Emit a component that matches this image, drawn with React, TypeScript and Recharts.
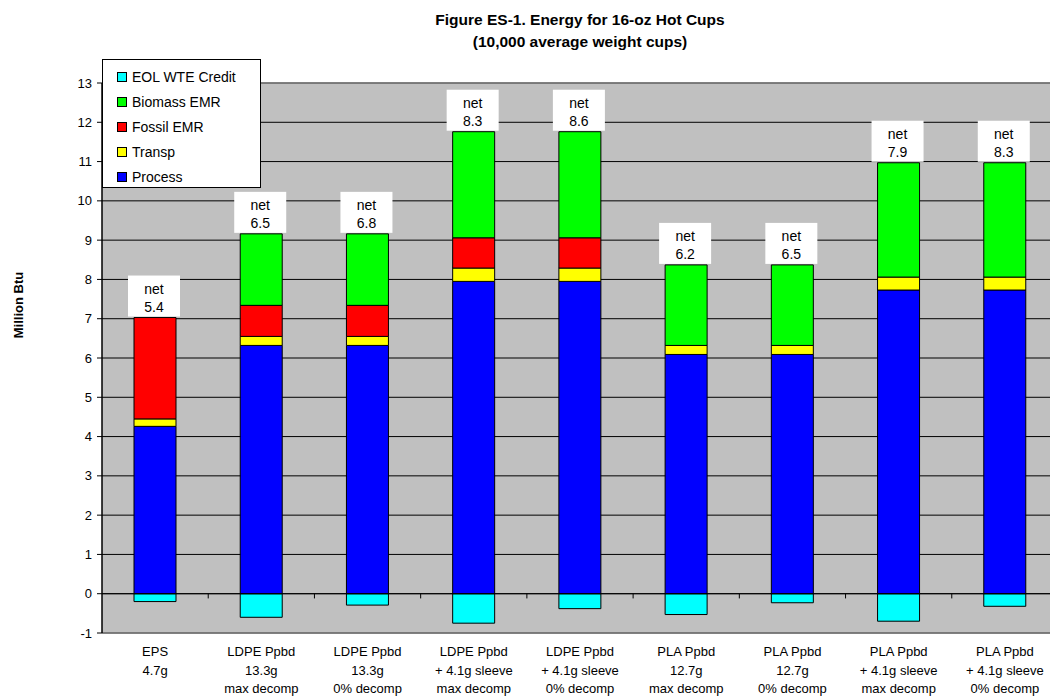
import React from "react";
import {
  BarChart,
  Bar,
  XAxis,
  YAxis,
  CartesianGrid,
  ReferenceLine,
  LabelList,
  Legend,
} from "recharts";

// Figure ES-1: energy for 16-oz hot cups, stacked by component (Million Btu)

const categories = [
  "EPS\n4.7g",
  "LDPE Ppbd\n13.3g\nmax decomp",
  "LDPE Ppbd\n13.3g\n0% decomp",
  "LDPE Ppbd\n+ 4.1g sleeve\nmax decomp",
  "LDPE Ppbd\n+ 4.1g sleeve\n0% decomp",
  "PLA Ppbd\n12.7g\nmax decomp",
  "PLA Ppbd\n12.7g\n0% decomp",
  "PLA Ppbd\n+ 4.1g sleeve\nmax decomp",
  "PLA Ppbd\n+ 4.1g sleeve\n0% decomp",
];

const processVals = [4.26, 6.32, 6.32, 7.95, 7.95, 6.09, 6.09, 7.73, 7.73];
const transpVals = [0.19, 0.23, 0.23, 0.34, 0.34, 0.23, 0.23, 0.33, 0.33];
const fossilVals = [2.58, 0.79, 0.79, 0.77, 0.77, 0, 0, 0, 0];
const biomassVals = [0, 1.82, 1.82, 2.7, 2.7, 2.05, 2.05, 2.91, 2.91];
const eolVals = [-0.2, -0.6, -0.29, -0.75, -0.38, -0.53, -0.23, -0.7, -0.32];
const netLabels = ["5.4", "6.5", "6.8", "8.3", "8.6", "6.2", "6.5", "7.9", "8.3"];

const yTicks = [-1, 0, 1, 2, 3, 4, 5, 6, 7, 8, 9, 10, 11, 12, 13];

const data = categories.map((name, i) => ({
  name,
  process: processVals[i],
  transp: transpVals[i],
  fossil: fossilVals[i],
  biomass: biomassVals[i],
  eol: eolVals[i],
  net: netLabels[i],
}));

// legend order, top to bottom
const LEGEND_ITEMS = [
  { label: "EOL WTE Credit", color: "#00FFFF" },
  { label: "Biomass EMR", color: "#00FF00" },
  { label: "Fossil EMR", color: "#FF0000" },
  { label: "Transp", color: "#FFFF00" },
  { label: "Process", color: "#0000FF" },
];

const FONT = "'Liberation Sans', Arial, sans-serif";

function CategoryTick(props: any) {
  const { x, y, payload } = props;
  const lines = String(payload.value).split("\n");
  return (
    <g transform={`translate(${x},${y})`}>
      {lines.map((ln, i) => (
        <text
          key={i}
          x={0}
          y={15 + i * 18.5}
          textAnchor="middle"
          fontFamily={FONT}
          fontSize={13}
          fill="#000"
        >
          {ln}
        </text>
      ))}
    </g>
  );
}

// net box on top of the highest non-empty segment of each stack
const netOnBiomass = (d: any) => (d.biomass > 0 ? d.net : "");
const netOnFossil = (d: any) => (d.biomass === 0 && d.fossil > 0 ? d.net : "");

function NetLabel(props: any) {
  const { x, y, width, value } = props;
  if (!value) return null;
  const cx = x + width / 2;
  const w = 52;
  const h = 41;
  return (
    <g>
      <rect x={cx - w / 2 - 1} y={y - h - 1} width={w} height={h} fill="#fff" />
      <text x={cx - 1} y={y - h + 17} textAnchor="middle" fontFamily={FONT} fontSize={14} fill="#000">
        net
      </text>
      <text x={cx - 1} y={y - h + 35} textAnchor="middle" fontFamily={FONT} fontSize={14} fill="#000">
        {value}
      </text>
    </g>
  );
}

function LegendBox() {
  return (
    <div
      style={{
        background: "#fff",
        border: "1px solid #000",
        width: 159,
        height: 129,
        boxSizing: "border-box",
        paddingTop: 4,
        fontFamily: FONT,
        fontSize: 14,
      }}
    >
      {LEGEND_ITEMS.map((it) => (
        <div key={it.label} style={{ display: "flex", alignItems: "center", height: 25, paddingLeft: 14 }}>
          <span
            style={{
              display: "inline-block",
              width: 8,
              height: 8,
              background: it.color,
              border: "1px solid #000",
              marginRight: 5,
            }}
          />
          <span>{it.label}</span>
        </div>
      ))}
    </div>
  );
}

export default function App() {
  const boundaryTicks = categories.slice(1);
  return (
    <div style={{ position: "relative", width: 1050, height: 690, fontFamily: FONT }}>
      <div
        style={{
          position: "absolute",
          left: 272,
          top: 1,
          width: 600,
          textAlign: "center",
          fontWeight: "bold",
          fontSize: 15.5,
          lineHeight: "22px",
          color: "#000",
        }}
      >
        Figure ES-1. Energy for 16-oz Hot Cups
        <br />
        (10,000 average weight cups)
      </div>
      <div
        style={{
          position: "absolute",
          left: 10,
          top: 297,
          transform: "translate(-50%, -50%) rotate(-90deg)",
          fontWeight: "bold",
          fontSize: 13,
          whiteSpace: "nowrap",
        }}
      >
        Million Btu
      </div>
      <BarChart
        width={1050}
        height={690}
        data={data}
        stackOffset="sign"
        barSize={42}
        margin={{ top: 75, right: 0, bottom: 0, left: 0 }}
      >
        <CartesianGrid vertical={false} stroke="#000" fill="#C0C0C0" />
        <XAxis
          dataKey="name"
          height={65}
          axisLine={false}
          tickLine={false}
          interval={0}
          tick={<CategoryTick />}
        />
        <YAxis
          type="number"
          domain={[-1, 13]}
          ticks={yTicks}
          interval={0}
          width={94}
          tickSize={5}
          tickMargin={5}
          axisLine={{ stroke: "#000", strokeWidth: 1.5 }}
          tickLine={{ stroke: "#000" }}
          tick={{ fill: "#000", fontSize: 13, fontFamily: FONT }}
        />
        <ReferenceLine y={13} stroke="#808080" strokeWidth={1.5} />
        <ReferenceLine y={-1} stroke="#808080" strokeWidth={1.5} />
        <Bar dataKey="eol" stackId="a" fill="#00FFFF" stroke="#000" strokeWidth={1} isAnimationActive={false} />
        <Bar dataKey="process" stackId="a" fill="#0000FF" stroke="#000" strokeWidth={1} isAnimationActive={false} />
        <Bar dataKey="transp" stackId="a" fill="#FFFF00" stroke="#000" strokeWidth={1} isAnimationActive={false} />
        <Bar dataKey="fossil" stackId="a" fill="#FF0000" stroke="#000" strokeWidth={1} isAnimationActive={false}>
          <LabelList dataKey={netOnFossil} content={<NetLabel />} />
        </Bar>
        <Bar dataKey="biomass" stackId="a" fill="#00FF00" stroke="#000" strokeWidth={1} isAnimationActive={false}>
          <LabelList dataKey={netOnBiomass} content={<NetLabel />} />
        </Bar>
        <ReferenceLine y={0} stroke="#000" strokeWidth={1} />
        {boundaryTicks.map((c) => (
          <ReferenceLine
            key={c}
            segment={[
              { x: c, y: 0 },
              { x: c, y: -0.12 },
            ]}
            position="start"
            stroke="#000"
          />
        ))}
        <Legend
          layout="vertical"
          align="center"
          verticalAlign="middle"
          wrapperStyle={{ position: "absolute", left: 94, top: 51, width: 159 }}
          content={() => <LegendBox />}
        />
      </BarChart>
    </div>
  );
}
